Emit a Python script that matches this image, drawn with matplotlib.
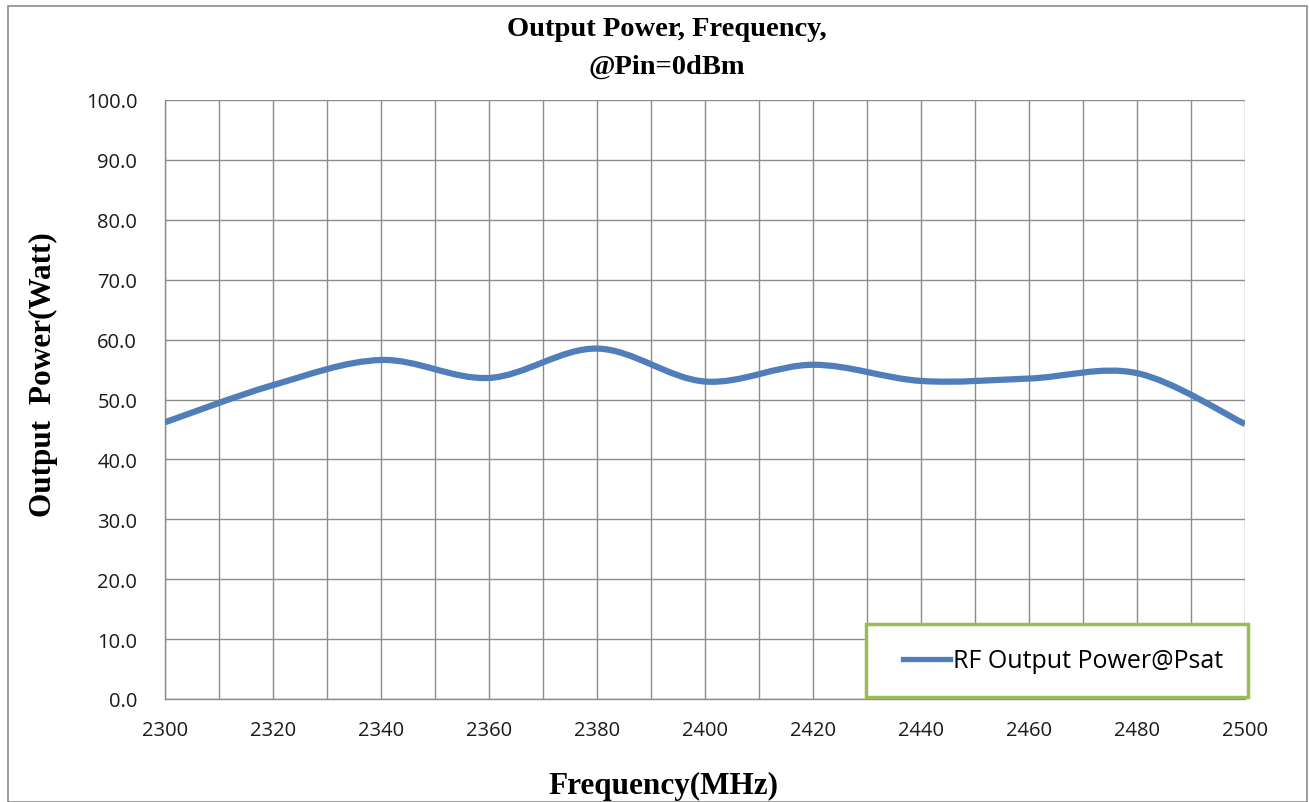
import matplotlib
matplotlib.use("Agg")
import matplotlib.pyplot as plt
from matplotlib.path import Path
from matplotlib.patches import PathPatch, Rectangle
from matplotlib.lines import Line2D

freq = [2300, 2320, 2340, 2360, 2380, 2400, 2420, 2440, 2460, 2480, 2500]
power = [46.2, 52.4, 56.6, 53.6, 58.5, 53.0, 55.8, 53.1, 53.5, 54.4, 45.9]
x_ticks = list(range(2300, 2501, 20))
y_ticks = [i * 10.0 for i in range(11)]
series_name = "RF Output Power@Psat"
title_line1 = "Output Power, Frequency,"
title_line2 = "@Pin=0dBm"
xlabel = "Frequency(MHz)"
ylabel = "Output  Power(Watt)"

W, H = 1309, 803
fig = plt.figure(figsize=(W / 100, H / 100), dpi=100)
ax = fig.add_axes([165 / W, 1 - 700 / H, (1245 - 165) / W, (700 - 101) / H])

line_color = "#4F7EBB"

# Excel-style smoothed curve (Bezier through data points)
verts = [(freq[0], power[0])]
codes = [Path.MOVETO]
n = len(freq)
for i in range(n - 1):
    p0 = (freq[max(i - 1, 0)], power[max(i - 1, 0)])
    p1 = (freq[i], power[i])
    p2 = (freq[i + 1], power[i + 1])
    p3 = (freq[min(i + 2, n - 1)], power[min(i + 2, n - 1)])
    c1 = (p1[0] + (p2[0] - p0[0]) / 6, p1[1] + (p2[1] - p0[1]) / 6)
    c2 = (p2[0] - (p3[0] - p1[0]) / 6, p2[1] - (p3[1] - p1[1]) / 6)
    verts += [c1, c2, p2]
    codes += [Path.CURVE4] * 3
ax.add_patch(PathPatch(Path(verts, codes), facecolor="none", edgecolor=line_color,
                       lw=4.5, capstyle="butt", zorder=3))

ax.set_xlim(2300, 2500)
ax.set_ylim(0, 100)
ax.set_xticks(x_ticks)
ax.set_xticks(range(2310, 2500, 20), minor=True)
ax.set_yticks(y_ticks)
ax.set_yticklabels([f"{v:.1f}" for v in y_ticks])
ax.grid(True, which="both", color="#8c8c8c", lw=1.0)
ax.tick_params(which="both", length=0)
ax.tick_params(axis="x", pad=15, labelsize=14.5)
ax.tick_params(axis="y", pad=20, labelsize=14.5)
for lab in ax.get_xticklabels() + ax.get_yticklabels():
    lab.set_fontfamily("Open Sans")
    lab.set_color("#1a1a1a")
for s in ["top", "right"]:
    ax.spines[s].set_visible(False)
for s in ["left", "bottom"]:
    ax.spines[s].set_color("#8c8c8c")
    ax.spines[s].set_linewidth(1.0)

fig.text(667 / W, 1 - 30 / H, title_line1, ha="center", va="center", fontsize=20.5,
         fontweight="bold", family="Liberation Serif")
fig.text(667 / W, 1 - 67 / H, title_line2, ha="center", va="center", fontsize=20.5,
         fontweight="bold", family="Liberation Serif")
fig.text(663 / W, 1 - 786 / H, xlabel, ha="center", va="center", fontsize=22.5,
         fontweight="bold", family="Liberation Serif")
fig.text(43 / W, 1 - 375 / H, ylabel, ha="center", va="center", fontsize=22.5,
         fontweight="bold", family="Liberation Serif", rotation=90)

# legend
fig.patches.append(Rectangle((866 / W, 1 - 698 / H), (1248 - 866) / W, (698 - 625) / H,
                             transform=fig.transFigure, facecolor="white",
                             edgecolor="#9BBB59", lw=2.5, zorder=5))
handle = Line2D([], [], color=line_color, lw=3.8)
leg = fig.legend([handle], [series_name], loc="center left",
                 bbox_to_anchor=(880 / W, 1 - 662 / H), frameon=False,
                 handlelength=1.9, handletextpad=0.1,
                 prop={"family": "Open Sans", "size": 18})
leg.set_zorder(6)

# outer border
fig.patches.append(Rectangle((8 / W, 0), (1307 - 8) / W, 1 - 7 / H,
                             transform=fig.transFigure, facecolor="none",
                             edgecolor="#8c8c8c", lw=1.2))

fig.savefig("out.png", dpi=100)
